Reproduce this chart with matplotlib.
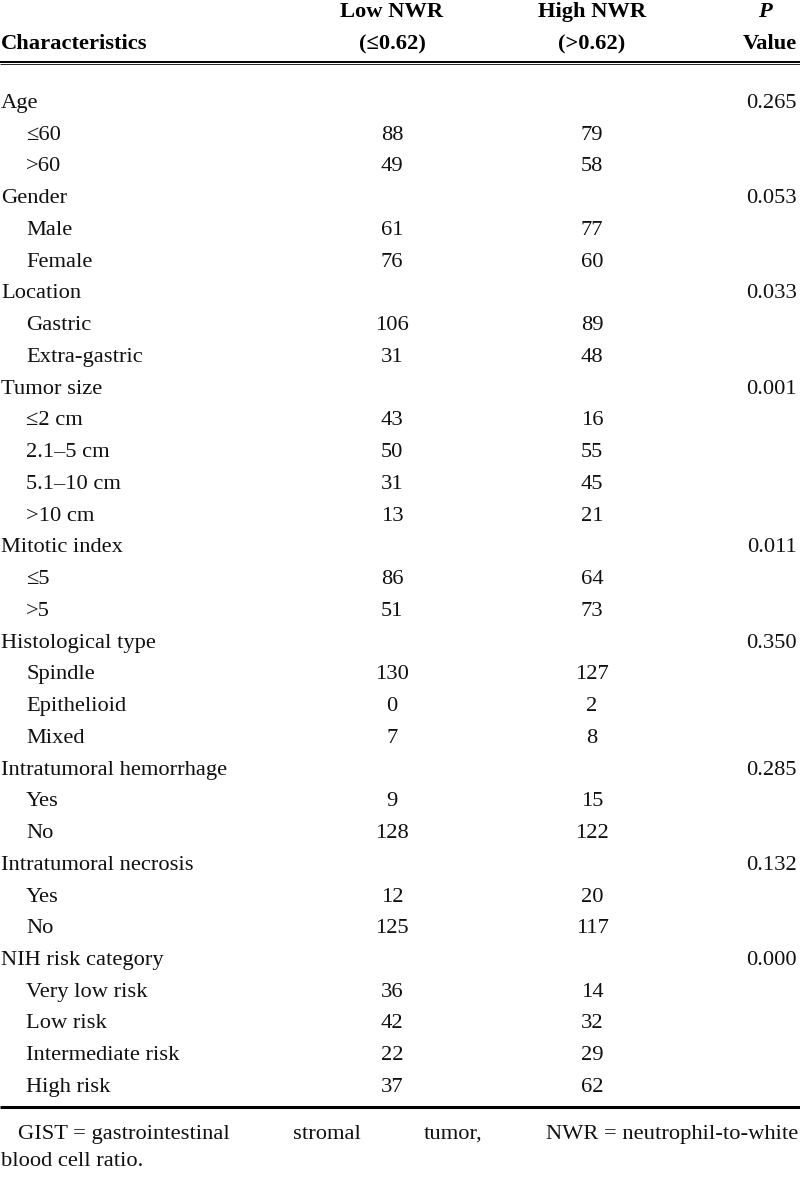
import matplotlib
matplotlib.use("Agg")
import matplotlib.pyplot as plt

# ---- data ----
row_labels = [
    "Age", "≤60", ">60",
    "Gender", "Male", "Female",
    "Location", "Gastric", "Extra-gastric",
    "Tumor size", "≤2 cm", "2.1–5 cm", "5.1–10 cm", ">10 cm",
    "Mitotic index", "≤5", ">5",
    "Histological type", "Spindle", "Epithelioid", "Mixed",
    "Intratumoral hemorrhage", "Yes", "No",
    "Intratumoral necrosis", "Yes", "No",
    "NIH risk category", "Very low risk", "Low risk", "Intermediate risk", "High risk",
]
is_group = [
    True, False, False,
    True, False, False,
    True, False, False,
    True, False, False, False, False,
    True, False, False,
    True, False, False, False,
    True, False, False,
    True, False, False,
    True, False, False, False, False,
]
low_nwr = [
    None, 88, 49,
    None, 61, 76,
    None, 106, 31,
    None, 43, 50, 31, 13,
    None, 86, 51,
    None, 130, 0, 7,
    None, 9, 128,
    None, 12, 125,
    None, 36, 42, 22, 37,
]
high_nwr = [
    None, 79, 58,
    None, 77, 60,
    None, 89, 48,
    None, 16, 55, 45, 21,
    None, 64, 73,
    None, 127, 2, 8,
    None, 15, 122,
    None, 20, 117,
    None, 14, 32, 29, 62,
]
p_values = [
    "0.265", "", "",
    "0.053", "", "",
    "0.033", "", "",
    "0.001", "", "", "", "",
    "0.011", "", "",
    "0.350", "", "", "",
    "0.285", "", "",
    "0.132", "", "",
    "0.000", "", "", "", "",
]
footnote_parts = ["GIST = gastrointestinal", "stromal", "tumor,", "NWR = neutrophil-to-white"]
footnote_line2 = "blood cell ratio."

# ---- layout ----
W, H = 800, 1179
fig = plt.figure(figsize=(W / 100, H / 100), dpi=100)
ax = fig.add_axes([0, 0, 1, 1])
ax.set_xlim(0, W)
ax.set_ylim(H, 0)
ax.axis("off")

FONT = "Liberation Serif"
FS = 16.2
x_label, x_indent = 1, 26
x_low, x_high, x_p = 392, 592, 797
row0, pitch = 108, 31.74

# header
hdr = dict(family=FONT, fontsize=FS, fontweight="bold", va="baseline", color="black")
ax.text(x_label, 49, "Characteristics", ha="left", **hdr)
ax.text(x_low, 17, "Low NWR", ha="center", **hdr)
ax.text(x_low, 49, "(≤0.62)", ha="center", **hdr)
ax.text(x_high, 17, "High NWR", ha="center", **hdr)
ax.text(x_high, 49, "(>0.62)", ha="center", **hdr)
ax.text(765, 17, "P", ha="center", fontstyle="italic", **hdr)
ax.text(x_p, 49, "Value", ha="right", **hdr)

# rules
ax.plot([0, W], [61.5, 61.5], color="black", lw=1.4, solid_capstyle="butt")
ax.plot([0, W], [64.3, 64.3], color="black", lw=0.6, solid_capstyle="butt")
ax.plot([0, W], [1107, 1107], color="black", lw=2.2, solid_capstyle="butt")

body = dict(family=FONT, fontsize=FS, va="baseline", color="#111111")
for i, lab in enumerate(row_labels):
    y = row0 + i * pitch
    ax.text(x_label if is_group[i] else x_indent, y, lab, ha="left", **body)
    if low_nwr[i] is not None:
        ax.text(x_low, y, str(low_nwr[i]), ha="center", **body)
    if high_nwr[i] is not None:
        ax.text(x_high, y, str(high_nwr[i]), ha="center", **body)
    if p_values[i]:
        ax.text(x_p, y, p_values[i], ha="right", **body)

# footnote: first line justified between x=18 and x=798
fy1, fy2 = 1139, 1166
fig.canvas.draw()
renderer = fig.canvas.get_renderer()
parts = [ax.text(0, fy1, s, ha="left", **body) for s in footnote_parts]
widths = [t.get_window_extent(renderer).width for t in parts]  # 1 px == 1 data unit
left, right = 18, 798
gap = (right - left - sum(widths)) / (len(parts) - 1)
x = left
for t, w in zip(parts, widths):
    t.set_x(x)
    x += w + gap
ax.text(1, fy2, footnote_line2, ha="left", **body)

fig.savefig("out.png", dpi=100, facecolor="white")
